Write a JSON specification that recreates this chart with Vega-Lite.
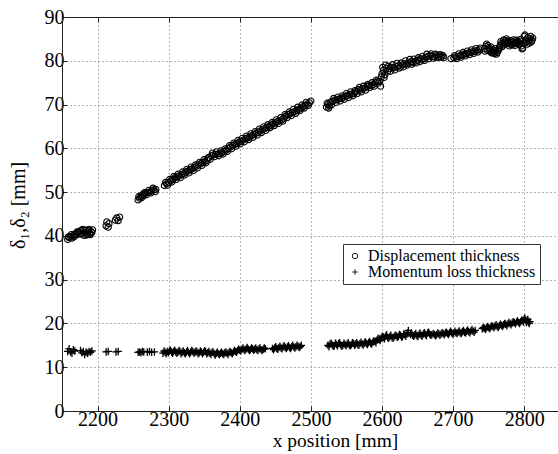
{
  "$schema": "https://vega.github.io/schema/vega-lite/v6.json",
  "width": 496,
  "height": 394,
  "autosize": {"type": "none"},
  "padding": {"left": 62, "top": 17, "right": 0, "bottom": 43},
  "background": "white",
  "datasets": {
    "disp": [
      {"x": 2158, "y": 39.2}, {"x": 2160, "y": 39.6}, {"x": 2162, "y": 39.9}, {"x": 2164, "y": 39.5}, {"x": 2166, "y": 40.1}, {"x": 2168, "y": 40.4}, {"x": 2170, "y": 40.2}, {"x": 2172, "y": 40.7}, {"x": 2174, "y": 40.9}, {"x": 2176, "y": 41.2}, {"x": 2178, "y": 40.5}, {"x": 2180, "y": 41.3}, {"x": 2182, "y": 40.8}, {"x": 2184, "y": 40.2}, {"x": 2185, "y": 40.9}, {"x": 2187, "y": 41.2}, {"x": 2189, "y": 40.6}, {"x": 2191, "y": 41.0}, {"x": 2193, "y": 41.4},
      {"x": 2159, "y": 39.8}, {"x": 2163, "y": 40.3}, {"x": 2167, "y": 39.8}, {"x": 2171, "y": 40.9}, {"x": 2175, "y": 40.4}, {"x": 2179, "y": 41.5}, {"x": 2181, "y": 40.1}, {"x": 2183, "y": 41.3}, {"x": 2186, "y": 40.3}, {"x": 2188, "y": 41.5}, {"x": 2190, "y": 40.3}, {"x": 2192, "y": 40.8},
      {"x": 2212, "y": 42.3}, {"x": 2213, "y": 43.2}, {"x": 2215, "y": 42.0}, {"x": 2216, "y": 42.8}, {"x": 2225, "y": 43.6}, {"x": 2227, "y": 44.1}, {"x": 2229, "y": 43.5}, {"x": 2231, "y": 44.3},
      {"x": 2257, "y": 48.2}, {"x": 2259, "y": 48.6}, {"x": 2261, "y": 49.0}, {"x": 2263, "y": 49.4}, {"x": 2265, "y": 49.2}, {"x": 2267, "y": 49.7}, {"x": 2270, "y": 49.9}, {"x": 2273, "y": 50.0}, {"x": 2276, "y": 50.3}, {"x": 2279, "y": 50.5}, {"x": 2282, "y": 50.6},
      {"x": 2258, "y": 49.0}, {"x": 2262, "y": 48.7}, {"x": 2266, "y": 49.9}, {"x": 2269, "y": 49.4}, {"x": 2272, "y": 50.4}, {"x": 2275, "y": 49.8}, {"x": 2278, "y": 50.9}, {"x": 2281, "y": 50.1},
      {"x": 2294, "y": 51.5}, {"x": 2297, "y": 51.9}, {"x": 2300, "y": 52.2}, {"x": 2303, "y": 52.6}, {"x": 2306, "y": 52.9}, {"x": 2309, "y": 53.3}, {"x": 2312, "y": 53.5}, {"x": 2315, "y": 53.7}, {"x": 2318, "y": 54.0}, {"x": 2321, "y": 54.2}, {"x": 2324, "y": 54.6}, {"x": 2327, "y": 54.8}, {"x": 2330, "y": 55.1}, {"x": 2333, "y": 55.3}, {"x": 2336, "y": 55.6}, {"x": 2339, "y": 55.9}, {"x": 2342, "y": 56.2}, {"x": 2345, "y": 56.5}, {"x": 2348, "y": 56.8}, {"x": 2351, "y": 57.0}, {"x": 2354, "y": 57.3}, {"x": 2357, "y": 57.9}, {"x": 2360, "y": 58.3}, {"x": 2363, "y": 58.5}, {"x": 2366, "y": 58.6}, {"x": 2369, "y": 58.7}, {"x": 2372, "y": 58.8}, {"x": 2375, "y": 59.0}, {"x": 2378, "y": 59.3}, {"x": 2381, "y": 59.6}, {"x": 2384, "y": 60.0}, {"x": 2387, "y": 60.3}, {"x": 2390, "y": 60.6}, {"x": 2393, "y": 60.9}, {"x": 2396, "y": 61.1}, {"x": 2399, "y": 61.4}, {"x": 2402, "y": 61.6}, {"x": 2405, "y": 61.9}, {"x": 2408, "y": 62.2}, {"x": 2411, "y": 62.4}, {"x": 2414, "y": 62.6}, {"x": 2417, "y": 62.9}, {"x": 2420, "y": 63.2}, {"x": 2423, "y": 63.4}, {"x": 2426, "y": 63.7}, {"x": 2429, "y": 64.0}, {"x": 2432, "y": 64.3}, {"x": 2435, "y": 64.5}, {"x": 2438, "y": 64.8}, {"x": 2441, "y": 65.0}, {"x": 2444, "y": 65.3}, {"x": 2447, "y": 65.6}, {"x": 2450, "y": 65.8}, {"x": 2453, "y": 66.1}, {"x": 2456, "y": 66.3}, {"x": 2459, "y": 66.5}, {"x": 2462, "y": 66.9}, {"x": 2465, "y": 67.4}, {"x": 2468, "y": 67.7}, {"x": 2471, "y": 67.9}, {"x": 2474, "y": 68.2}, {"x": 2477, "y": 68.4}, {"x": 2480, "y": 68.7}, {"x": 2483, "y": 68.9}, {"x": 2486, "y": 69.2}, {"x": 2489, "y": 69.5}, {"x": 2492, "y": 69.8}, {"x": 2495, "y": 70.1}, {"x": 2498, "y": 70.4}, {"x": 2500, "y": 70.8},
      {"x": 2295.5, "y": 52.2}, {"x": 2298.5, "y": 51.6}, {"x": 2301.5, "y": 52.9}, {"x": 2304.5, "y": 52.3}, {"x": 2307.5, "y": 53.6}, {"x": 2310.5, "y": 52.9}, {"x": 2313.5, "y": 54.1}, {"x": 2316.5, "y": 53.3}, {"x": 2319.5, "y": 54.6}, {"x": 2322.5, "y": 53.9}, {"x": 2325.5, "y": 55.2}, {"x": 2328.5, "y": 54.4}, {"x": 2331.5, "y": 55.7}, {"x": 2334.5, "y": 54.9}, {"x": 2337.5, "y": 56.2}, {"x": 2340.5, "y": 55.5}, {"x": 2343.5, "y": 56.8}, {"x": 2346.5, "y": 56.1}, {"x": 2349.5, "y": 57.4}, {"x": 2352.5, "y": 56.7}, {"x": 2355.5, "y": 57.9}, {"x": 2358.5, "y": 57.5}, {"x": 2361.5, "y": 58.9}, {"x": 2364.5, "y": 58.1}, {"x": 2367.5, "y": 59.2}, {"x": 2370.5, "y": 58.3}, {"x": 2373.5, "y": 59.4}, {"x": 2376.5, "y": 58.7}, {"x": 2379.5, "y": 59.9}, {"x": 2382.5, "y": 59.3}, {"x": 2385.5, "y": 60.6}, {"x": 2388.5, "y": 59.9}, {"x": 2391.5, "y": 61.2}, {"x": 2394.5, "y": 60.5}, {"x": 2397.5, "y": 61.8}, {"x": 2400.5, "y": 61.0}, {"x": 2403.5, "y": 62.3}, {"x": 2406.5, "y": 61.5}, {"x": 2409.5, "y": 62.8}, {"x": 2412.5, "y": 62.0}, {"x": 2415.5, "y": 63.3}, {"x": 2418.5, "y": 62.5}, {"x": 2421.5, "y": 63.8}, {"x": 2424.5, "y": 63.0}, {"x": 2427.5, "y": 64.4}, {"x": 2430.5, "y": 63.6}, {"x": 2433.5, "y": 64.9}, {"x": 2436.5, "y": 64.1}, {"x": 2439.5, "y": 65.4}, {"x": 2442.5, "y": 64.7}, {"x": 2445.5, "y": 65.9}, {"x": 2448.5, "y": 65.2}, {"x": 2451.5, "y": 66.5}, {"x": 2454.5, "y": 65.7}, {"x": 2457.5, "y": 67.0}, {"x": 2460.5, "y": 66.2}, {"x": 2463.5, "y": 67.7}, {"x": 2466.5, "y": 67.0}, {"x": 2469.5, "y": 68.3}, {"x": 2472.5, "y": 67.5}, {"x": 2475.5, "y": 68.9}, {"x": 2478.5, "y": 68.0}, {"x": 2481.5, "y": 69.4}, {"x": 2484.5, "y": 68.6}, {"x": 2487.5, "y": 69.9}, {"x": 2490.5, "y": 69.2}, {"x": 2493.5, "y": 70.5}, {"x": 2496.5, "y": 69.8},
      {"x": 2522, "y": 69.4}, {"x": 2524, "y": 70.0}, {"x": 2526, "y": 69.7}, {"x": 2528, "y": 70.6}, {"x": 2531, "y": 70.8}, {"x": 2534, "y": 71.0}, {"x": 2537, "y": 71.1}, {"x": 2540, "y": 71.3}, {"x": 2543, "y": 71.4}, {"x": 2546, "y": 71.7}, {"x": 2549, "y": 71.9}, {"x": 2552, "y": 72.1}, {"x": 2555, "y": 72.3}, {"x": 2558, "y": 72.4}, {"x": 2561, "y": 72.6}, {"x": 2564, "y": 73.0}, {"x": 2567, "y": 73.4}, {"x": 2570, "y": 73.3}, {"x": 2573, "y": 73.6}, {"x": 2576, "y": 73.8}, {"x": 2579, "y": 74.1}, {"x": 2582, "y": 74.4}, {"x": 2585, "y": 74.3}, {"x": 2588, "y": 74.6}, {"x": 2591, "y": 75.0}, {"x": 2594, "y": 75.4}, {"x": 2597, "y": 75.3}, {"x": 2599, "y": 76.3},
      {"x": 2523, "y": 70.3}, {"x": 2525, "y": 69.2}, {"x": 2529, "y": 69.9}, {"x": 2532, "y": 71.4}, {"x": 2535, "y": 70.5}, {"x": 2538, "y": 71.7}, {"x": 2541, "y": 70.8}, {"x": 2544, "y": 72.0}, {"x": 2547, "y": 71.2}, {"x": 2550, "y": 72.5}, {"x": 2553, "y": 71.6}, {"x": 2556, "y": 72.9}, {"x": 2559, "y": 72.0}, {"x": 2562, "y": 73.2}, {"x": 2565, "y": 72.5}, {"x": 2568, "y": 73.9}, {"x": 2571, "y": 72.9}, {"x": 2574, "y": 74.2}, {"x": 2577, "y": 73.3}, {"x": 2580, "y": 74.6}, {"x": 2583, "y": 73.9}, {"x": 2586, "y": 75.0}, {"x": 2589, "y": 74.2}, {"x": 2592, "y": 75.6}, {"x": 2595, "y": 74.9}, {"x": 2598, "y": 74.2},
      {"x": 2600, "y": 77.0}, {"x": 2602, "y": 77.8}, {"x": 2604, "y": 76.8}, {"x": 2606, "y": 78.3}, {"x": 2608, "y": 77.6}, {"x": 2611, "y": 78.2}, {"x": 2614, "y": 78.5}, {"x": 2617, "y": 78.4}, {"x": 2620, "y": 78.7}, {"x": 2623, "y": 78.9}, {"x": 2626, "y": 78.6}, {"x": 2629, "y": 79.1}, {"x": 2632, "y": 79.3}, {"x": 2635, "y": 79.0}, {"x": 2638, "y": 79.5}, {"x": 2641, "y": 79.8}, {"x": 2644, "y": 79.6}, {"x": 2647, "y": 79.9}, {"x": 2650, "y": 80.1}, {"x": 2653, "y": 79.8}, {"x": 2656, "y": 80.2}, {"x": 2659, "y": 80.5}, {"x": 2662, "y": 80.8}, {"x": 2665, "y": 81.0}, {"x": 2668, "y": 81.2}, {"x": 2671, "y": 81.0}, {"x": 2674, "y": 80.9}, {"x": 2677, "y": 81.2}, {"x": 2680, "y": 81.0}, {"x": 2683, "y": 80.8}, {"x": 2686, "y": 81.1}, {"x": 2697, "y": 80.5},
      {"x": 2601, "y": 78.5}, {"x": 2603, "y": 76.2}, {"x": 2605, "y": 79.0}, {"x": 2609, "y": 78.8}, {"x": 2612, "y": 77.6}, {"x": 2615, "y": 79.1}, {"x": 2618, "y": 77.9}, {"x": 2621, "y": 79.4}, {"x": 2624, "y": 78.3}, {"x": 2627, "y": 79.5}, {"x": 2630, "y": 78.6}, {"x": 2633, "y": 80.0}, {"x": 2636, "y": 79.4}, {"x": 2639, "y": 80.3}, {"x": 2642, "y": 79.2}, {"x": 2645, "y": 80.4}, {"x": 2648, "y": 79.5}, {"x": 2651, "y": 80.7}, {"x": 2654, "y": 80.5}, {"x": 2657, "y": 81.0}, {"x": 2660, "y": 80.1}, {"x": 2663, "y": 81.5}, {"x": 2666, "y": 80.5}, {"x": 2669, "y": 81.6}, {"x": 2672, "y": 80.6}, {"x": 2675, "y": 81.5}, {"x": 2678, "y": 80.7}, {"x": 2681, "y": 81.4}, {"x": 2684, "y": 81.3}, {"x": 2687, "y": 80.7},
      {"x": 2701, "y": 80.7}, {"x": 2704, "y": 80.9}, {"x": 2707, "y": 81.0}, {"x": 2710, "y": 81.2}, {"x": 2713, "y": 81.3}, {"x": 2716, "y": 81.5}, {"x": 2719, "y": 81.6}, {"x": 2722, "y": 81.8}, {"x": 2725, "y": 81.9}, {"x": 2728, "y": 82.1}, {"x": 2731, "y": 82.2}, {"x": 2734, "y": 82.4}, {"x": 2737, "y": 82.5},
      {"x": 2702, "y": 81.2}, {"x": 2705, "y": 80.5}, {"x": 2708, "y": 81.6}, {"x": 2711, "y": 80.8}, {"x": 2714, "y": 81.9}, {"x": 2717, "y": 81.1}, {"x": 2720, "y": 82.2}, {"x": 2723, "y": 81.4}, {"x": 2726, "y": 82.5}, {"x": 2729, "y": 81.7}, {"x": 2732, "y": 82.8}, {"x": 2735, "y": 82.0}, {"x": 2738, "y": 82.9},
      {"x": 2744, "y": 82.8}, {"x": 2746, "y": 83.3}, {"x": 2748, "y": 82.4}, {"x": 2750, "y": 83.0}, {"x": 2752, "y": 82.2}, {"x": 2754, "y": 81.8}, {"x": 2756, "y": 82.5}, {"x": 2758, "y": 81.6}, {"x": 2760, "y": 82.3}, {"x": 2762, "y": 81.9}, {"x": 2764, "y": 82.6}, {"x": 2766, "y": 83.5}, {"x": 2768, "y": 84.0}, {"x": 2770, "y": 83.6}, {"x": 2772, "y": 84.3}, {"x": 2774, "y": 84.6}, {"x": 2776, "y": 84.2}, {"x": 2778, "y": 84.0}, {"x": 2780, "y": 83.8}, {"x": 2782, "y": 84.1}, {"x": 2784, "y": 84.3}, {"x": 2786, "y": 84.0}, {"x": 2788, "y": 84.2}, {"x": 2790, "y": 83.9}, {"x": 2792, "y": 84.2}, {"x": 2794, "y": 84.5}, {"x": 2796, "y": 83.4}, {"x": 2798, "y": 82.9}, {"x": 2800, "y": 85.6}, {"x": 2802, "y": 84.8}, {"x": 2804, "y": 83.8}, {"x": 2806, "y": 84.6}, {"x": 2808, "y": 85.0}, {"x": 2810, "y": 84.3}, {"x": 2812, "y": 85.2},
      {"x": 2745, "y": 82.2}, {"x": 2747, "y": 83.8}, {"x": 2749, "y": 83.5}, {"x": 2751, "y": 82.6}, {"x": 2753, "y": 83.2}, {"x": 2755, "y": 82.0}, {"x": 2757, "y": 81.9}, {"x": 2759, "y": 82.8}, {"x": 2761, "y": 81.5}, {"x": 2763, "y": 82.2}, {"x": 2765, "y": 83.0}, {"x": 2767, "y": 84.4}, {"x": 2769, "y": 83.2}, {"x": 2771, "y": 84.8}, {"x": 2773, "y": 83.9}, {"x": 2775, "y": 85.0}, {"x": 2777, "y": 84.5}, {"x": 2779, "y": 83.4}, {"x": 2781, "y": 84.6}, {"x": 2783, "y": 83.6}, {"x": 2785, "y": 84.8}, {"x": 2787, "y": 83.5}, {"x": 2789, "y": 84.7}, {"x": 2791, "y": 84.4}, {"x": 2793, "y": 83.7}, {"x": 2795, "y": 84.9}, {"x": 2797, "y": 82.7}, {"x": 2799, "y": 84.0}, {"x": 2801, "y": 85.9}, {"x": 2803, "y": 84.3}, {"x": 2805, "y": 85.3}, {"x": 2807, "y": 84.0}, {"x": 2809, "y": 85.6}, {"x": 2811, "y": 84.7}
    ],
    "mom": [
      {"x": 2158, "y": 13.6}, {"x": 2160, "y": 14.2}, {"x": 2162, "y": 13.5}, {"x": 2164, "y": 13.2}, {"x": 2166, "y": 14.0}, {"x": 2168, "y": 13.7}, {"x": 2176, "y": 13.8}, {"x": 2178, "y": 13.3}, {"x": 2180, "y": 13.6}, {"x": 2182, "y": 12.9}, {"x": 2184, "y": 13.5}, {"x": 2186, "y": 13.2}, {"x": 2188, "y": 13.6}, {"x": 2190, "y": 13.4}, {"x": 2192, "y": 13.7},
      {"x": 2212, "y": 13.5}, {"x": 2215, "y": 13.6}, {"x": 2226, "y": 13.5}, {"x": 2229, "y": 13.6},
      {"x": 2257, "y": 13.4}, {"x": 2259, "y": 13.5}, {"x": 2261, "y": 13.3}, {"x": 2263, "y": 13.6}, {"x": 2265, "y": 13.5}, {"x": 2270, "y": 13.5}, {"x": 2273, "y": 13.6}, {"x": 2276, "y": 13.4}, {"x": 2280, "y": 13.5},
      {"x": 2292, "y": 13.2}, {"x": 2295, "y": 13.4}, {"x": 2298, "y": 13.6}, {"x": 2301, "y": 13.7}, {"x": 2304, "y": 13.5}, {"x": 2307, "y": 13.6}, {"x": 2310, "y": 13.5}, {"x": 2313, "y": 13.4}, {"x": 2316, "y": 13.6}, {"x": 2319, "y": 13.4}, {"x": 2322, "y": 13.3}, {"x": 2325, "y": 13.5}, {"x": 2328, "y": 13.4}, {"x": 2331, "y": 13.5}, {"x": 2334, "y": 13.6}, {"x": 2337, "y": 13.4}, {"x": 2340, "y": 13.5}, {"x": 2343, "y": 13.3}, {"x": 2346, "y": 13.5}, {"x": 2349, "y": 13.4}, {"x": 2352, "y": 13.6}, {"x": 2355, "y": 13.3}, {"x": 2358, "y": 13.2}, {"x": 2361, "y": 13.4}, {"x": 2364, "y": 13.1}, {"x": 2367, "y": 13.2}, {"x": 2370, "y": 13.0}, {"x": 2373, "y": 13.2}, {"x": 2376, "y": 13.1}, {"x": 2379, "y": 13.3}, {"x": 2382, "y": 13.2}, {"x": 2385, "y": 13.4}, {"x": 2388, "y": 13.3}, {"x": 2391, "y": 13.5}, {"x": 2394, "y": 13.6}, {"x": 2397, "y": 13.8}, {"x": 2400, "y": 13.9}, {"x": 2403, "y": 14.1}, {"x": 2406, "y": 14.0}, {"x": 2409, "y": 14.2}, {"x": 2412, "y": 14.1}, {"x": 2415, "y": 14.0}, {"x": 2418, "y": 14.2}, {"x": 2421, "y": 14.1}, {"x": 2424, "y": 14.0}, {"x": 2427, "y": 14.2}, {"x": 2430, "y": 14.0}, {"x": 2433, "y": 14.1}, {"x": 2436, "y": 14.2}, {"x": 2446, "y": 14.3}, {"x": 2449, "y": 14.4}, {"x": 2452, "y": 14.3}, {"x": 2455, "y": 14.5}, {"x": 2458, "y": 14.4}, {"x": 2461, "y": 14.6}, {"x": 2464, "y": 14.5}, {"x": 2467, "y": 14.6}, {"x": 2470, "y": 14.5}, {"x": 2473, "y": 14.7}, {"x": 2476, "y": 14.6}, {"x": 2479, "y": 14.7}, {"x": 2482, "y": 14.8}, {"x": 2485, "y": 14.7},
      {"x": 2293.5, "y": 13.7}, {"x": 2296.5, "y": 13.1}, {"x": 2299.5, "y": 13.3}, {"x": 2302.5, "y": 13.9}, {"x": 2305.5, "y": 13.2}, {"x": 2308.5, "y": 13.9}, {"x": 2311.5, "y": 13.2}, {"x": 2314.5, "y": 13.8}, {"x": 2317.5, "y": 13.1}, {"x": 2320.5, "y": 13.7}, {"x": 2323.5, "y": 13.1}, {"x": 2326.5, "y": 13.8}, {"x": 2329.5, "y": 13.1}, {"x": 2332.5, "y": 13.8}, {"x": 2335.5, "y": 13.2}, {"x": 2338.5, "y": 13.7}, {"x": 2341.5, "y": 13.1}, {"x": 2344.5, "y": 13.7}, {"x": 2347.5, "y": 13.1}, {"x": 2350.5, "y": 13.7}, {"x": 2353.5, "y": 13.1}, {"x": 2356.5, "y": 13.6}, {"x": 2359.5, "y": 12.9}, {"x": 2362.5, "y": 13.5}, {"x": 2365.5, "y": 12.8}, {"x": 2368.5, "y": 13.4}, {"x": 2371.5, "y": 12.9}, {"x": 2374.5, "y": 13.4}, {"x": 2377.5, "y": 12.9}, {"x": 2380.5, "y": 13.5}, {"x": 2383.5, "y": 12.9}, {"x": 2386.5, "y": 13.6}, {"x": 2389.5, "y": 13.1}, {"x": 2392.5, "y": 13.8}, {"x": 2395.5, "y": 13.4}, {"x": 2398.5, "y": 14.1}, {"x": 2401.5, "y": 13.7}, {"x": 2404.5, "y": 14.4}, {"x": 2407.5, "y": 13.8}, {"x": 2410.5, "y": 14.5}, {"x": 2413.5, "y": 13.8}, {"x": 2416.5, "y": 14.4}, {"x": 2419.5, "y": 13.9}, {"x": 2422.5, "y": 14.4}, {"x": 2425.5, "y": 13.8}, {"x": 2428.5, "y": 14.4}, {"x": 2431.5, "y": 13.8}, {"x": 2434.5, "y": 14.4}, {"x": 2447.5, "y": 14.0}, {"x": 2450.5, "y": 14.7}, {"x": 2453.5, "y": 14.1}, {"x": 2456.5, "y": 14.8}, {"x": 2459.5, "y": 14.2}, {"x": 2462.5, "y": 14.9}, {"x": 2465.5, "y": 14.3}, {"x": 2468.5, "y": 14.9}, {"x": 2471.5, "y": 14.3}, {"x": 2474.5, "y": 15.0}, {"x": 2477.5, "y": 14.4}, {"x": 2480.5, "y": 15.0}, {"x": 2483.5, "y": 14.5}, {"x": 2486.5, "y": 15.0},
      {"x": 2524, "y": 15.0}, {"x": 2527, "y": 15.3}, {"x": 2530, "y": 15.1}, {"x": 2533, "y": 14.9}, {"x": 2536, "y": 15.2}, {"x": 2539, "y": 15.4}, {"x": 2542, "y": 15.1}, {"x": 2545, "y": 15.0}, {"x": 2548, "y": 15.2}, {"x": 2551, "y": 15.3}, {"x": 2554, "y": 15.1}, {"x": 2557, "y": 15.2}, {"x": 2560, "y": 15.4}, {"x": 2563, "y": 15.3}, {"x": 2566, "y": 15.2}, {"x": 2569, "y": 15.4}, {"x": 2572, "y": 15.3}, {"x": 2575, "y": 15.5}, {"x": 2578, "y": 15.4}, {"x": 2581, "y": 15.6}, {"x": 2584, "y": 15.5}, {"x": 2587, "y": 15.7}, {"x": 2590, "y": 15.9}, {"x": 2593, "y": 16.2}, {"x": 2596, "y": 16.4}, {"x": 2599, "y": 16.7}, {"x": 2602, "y": 16.9}, {"x": 2605, "y": 17.1}, {"x": 2608, "y": 16.8}, {"x": 2611, "y": 17.0}, {"x": 2614, "y": 16.8}, {"x": 2617, "y": 16.9}, {"x": 2620, "y": 17.2}, {"x": 2623, "y": 17.1}, {"x": 2626, "y": 17.3}, {"x": 2629, "y": 17.0}, {"x": 2632, "y": 17.4}, {"x": 2635, "y": 17.6}, {"x": 2637, "y": 18.4}, {"x": 2640, "y": 17.5}, {"x": 2643, "y": 17.3}, {"x": 2646, "y": 17.4}, {"x": 2649, "y": 17.2}, {"x": 2652, "y": 17.5}, {"x": 2655, "y": 17.3}, {"x": 2658, "y": 17.6}, {"x": 2661, "y": 17.5}, {"x": 2664, "y": 17.8}, {"x": 2667, "y": 17.6}, {"x": 2670, "y": 17.4}, {"x": 2674, "y": 17.4}, {"x": 2677, "y": 17.5}, {"x": 2680, "y": 17.6}, {"x": 2683, "y": 17.6}, {"x": 2686, "y": 17.7}, {"x": 2689, "y": 17.8}, {"x": 2692, "y": 17.7}, {"x": 2695, "y": 17.9}, {"x": 2698, "y": 17.9}, {"x": 2701, "y": 17.8}, {"x": 2704, "y": 17.9}, {"x": 2707, "y": 18.0}, {"x": 2710, "y": 17.9}, {"x": 2713, "y": 18.1}, {"x": 2716, "y": 18.0}, {"x": 2719, "y": 18.2}, {"x": 2722, "y": 18.1}, {"x": 2725, "y": 18.3}, {"x": 2728, "y": 18.2}, {"x": 2731, "y": 18.4},
      {"x": 2525.5, "y": 14.7}, {"x": 2528.5, "y": 15.5}, {"x": 2531.5, "y": 14.8}, {"x": 2534.5, "y": 15.5}, {"x": 2537.5, "y": 14.9}, {"x": 2540.5, "y": 15.6}, {"x": 2543.5, "y": 14.8}, {"x": 2546.5, "y": 15.5}, {"x": 2549.5, "y": 14.9}, {"x": 2552.5, "y": 15.6}, {"x": 2555.5, "y": 14.9}, {"x": 2558.5, "y": 15.6}, {"x": 2561.5, "y": 15.0}, {"x": 2564.5, "y": 15.6}, {"x": 2567.5, "y": 15.0}, {"x": 2570.5, "y": 15.7}, {"x": 2573.5, "y": 15.1}, {"x": 2576.5, "y": 15.8}, {"x": 2579.5, "y": 15.2}, {"x": 2582.5, "y": 15.9}, {"x": 2585.5, "y": 15.3}, {"x": 2588.5, "y": 16.0}, {"x": 2591.5, "y": 15.6}, {"x": 2594.5, "y": 16.6}, {"x": 2597.5, "y": 16.1}, {"x": 2600.5, "y": 17.1}, {"x": 2603.5, "y": 16.5}, {"x": 2606.5, "y": 17.4}, {"x": 2609.5, "y": 16.6}, {"x": 2612.5, "y": 17.3}, {"x": 2615.5, "y": 16.6}, {"x": 2618.5, "y": 17.3}, {"x": 2621.5, "y": 16.8}, {"x": 2624.5, "y": 17.5}, {"x": 2627.5, "y": 16.9}, {"x": 2630.5, "y": 17.6}, {"x": 2633.5, "y": 17.1}, {"x": 2636.5, "y": 17.9}, {"x": 2641.5, "y": 17.8}, {"x": 2644.5, "y": 17.1}, {"x": 2647.5, "y": 17.7}, {"x": 2650.5, "y": 17.0}, {"x": 2653.5, "y": 17.8}, {"x": 2656.5, "y": 17.1}, {"x": 2659.5, "y": 17.9}, {"x": 2662.5, "y": 17.2}, {"x": 2665.5, "y": 18.0}, {"x": 2668.5, "y": 17.3}, {"x": 2672, "y": 17.7}, {"x": 2675.5, "y": 17.2}, {"x": 2678.5, "y": 17.8}, {"x": 2681.5, "y": 17.3}, {"x": 2684.5, "y": 17.9}, {"x": 2687.5, "y": 17.4}, {"x": 2690.5, "y": 18.0}, {"x": 2693.5, "y": 17.5}, {"x": 2696.5, "y": 18.2}, {"x": 2699.5, "y": 17.6}, {"x": 2702.5, "y": 18.2}, {"x": 2705.5, "y": 17.7}, {"x": 2708.5, "y": 18.3}, {"x": 2711.5, "y": 17.7}, {"x": 2714.5, "y": 18.4}, {"x": 2717.5, "y": 17.8}, {"x": 2720.5, "y": 18.5}, {"x": 2723.5, "y": 17.9}, {"x": 2726.5, "y": 18.6}, {"x": 2729.5, "y": 18.0},
      {"x": 2741, "y": 18.8}, {"x": 2744, "y": 18.9}, {"x": 2747, "y": 19.0}, {"x": 2750, "y": 19.1}, {"x": 2753, "y": 19.2}, {"x": 2756, "y": 19.3}, {"x": 2759, "y": 19.4}, {"x": 2762, "y": 19.3}, {"x": 2765, "y": 19.5}, {"x": 2768, "y": 19.6}, {"x": 2771, "y": 19.7}, {"x": 2774, "y": 19.8}, {"x": 2777, "y": 19.9}, {"x": 2780, "y": 20.0}, {"x": 2783, "y": 20.1}, {"x": 2786, "y": 20.2}, {"x": 2789, "y": 20.3}, {"x": 2792, "y": 20.2}, {"x": 2795, "y": 20.4}, {"x": 2798, "y": 20.6}, {"x": 2800, "y": 21.0}, {"x": 2802, "y": 20.8}, {"x": 2804, "y": 20.5}, {"x": 2806, "y": 20.3}, {"x": 2808, "y": 20.4},
      {"x": 2742.5, "y": 19.1}, {"x": 2745.5, "y": 18.6}, {"x": 2748.5, "y": 19.3}, {"x": 2751.5, "y": 18.8}, {"x": 2754.5, "y": 19.5}, {"x": 2757.5, "y": 19.0}, {"x": 2760.5, "y": 19.7}, {"x": 2763.5, "y": 19.1}, {"x": 2766.5, "y": 19.8}, {"x": 2769.5, "y": 19.3}, {"x": 2772.5, "y": 20.0}, {"x": 2775.5, "y": 19.5}, {"x": 2778.5, "y": 20.2}, {"x": 2781.5, "y": 19.7}, {"x": 2784.5, "y": 20.4}, {"x": 2787.5, "y": 19.9}, {"x": 2790.5, "y": 20.6}, {"x": 2793.5, "y": 20.0}, {"x": 2796.5, "y": 20.8}, {"x": 2799, "y": 20.3}, {"x": 2801, "y": 21.2}, {"x": 2803, "y": 20.2}, {"x": 2805, "y": 20.9}, {"x": 2807, "y": 20.0}
    ]
  },
  "encoding": {
    "y": {
      "field": "y", "type": "quantitative",
      "scale": {"domain": [0, 90], "nice": false, "zero": false},
      "axis": {
        "title": "δ₁,δ₂ [mm]",
        "values": [0, 10, 20, 30, 40, 50, 60, 70, 80, 90],
        "titleAngle": -90, "titleX": -38, "titleY": 188, "titleAlign": "center", "titleBaseline": "alphabetic",
        "titleFontSize": 20
      }
    }
  },
  "layer": [
    {
      "data": {"name": "disp"},
      "mark": {"type": "point", "filled": false, "color": "black", "strokeWidth": 1.1, "size": 38, "opacity": 1},
      "encoding": {
        "x": {
          "field": "x", "type": "quantitative",
          "scale": {"domain": [2150, 2847.5], "nice": false, "zero": false},
          "axis": {
            "title": "x position [mm]", "format": "d",
            "values": [2200, 2300, 2400, 2500, 2600, 2700, 2800],
            "titleX": 273, "titleY": 35, "titleAlign": "center", "titleBaseline": "alphabetic",
            "titleFontSize": 19.5
          }
        },
        "shape": {
          "datum": "Displacement thickness",
          "scale": {"domain": ["Displacement thickness", "Momentum loss thickness"], "range": ["circle", "M-1,0H1M0,-1V1"]},
          "legend": {
            "orient": "none", "legendX": 281, "legendY": 227, "title": null,
            "strokeColor": "#333", "fillColor": "white", "padding": 4,
            "labelFontSize": 16, "labelFont": "Liberation Serif", "labelColor": "black", "labelLimit": 400,
            "rowPadding": 0, "labelOffset": 5, "symbolSize": 30, "symbolStrokeWidth": 0.9,
            "symbolStrokeColor": "black", "symbolFillColor": "transparent"
          }
        }
      }
    },
    {
      "data": {"name": "mom"},
      "mark": {"type": "point", "filled": false, "color": "black", "strokeWidth": 1.3, "size": 56, "opacity": 1},
      "encoding": {
        "x": {
          "field": "x", "type": "quantitative",
          "axis": {
            "orient": "top", "labels": false, "title": null, "grid": false,
            "values": [2200, 2300, 2400, 2500, 2600, 2700, 2800]
          }
        },
        "shape": {"datum": "Momentum loss thickness"}
      }
    }
  ],
  "resolve": {"axis": {"x": "independent"}},
  "config": {
    "view": {"stroke": null},
    "font": "Liberation Serif",
    "axis": {
      "labelFont": "Liberation Serif", "labelFontSize": 20, "labelColor": "black",
      "titleFont": "Liberation Serif", "titleFontWeight": "normal", "titleColor": "black",
      "domainColor": "#222", "domainWidth": 1,
      "tickColor": "#222", "tickSize": -5, "tickWidth": 1,
      "labelPadding": 3, "labelOverlap": false, "labelFlush": false,
      "grid": true, "gridColor": "#666", "gridDash": [1, 3], "gridWidth": 1, "gridOpacity": 1
    }
  }
}
